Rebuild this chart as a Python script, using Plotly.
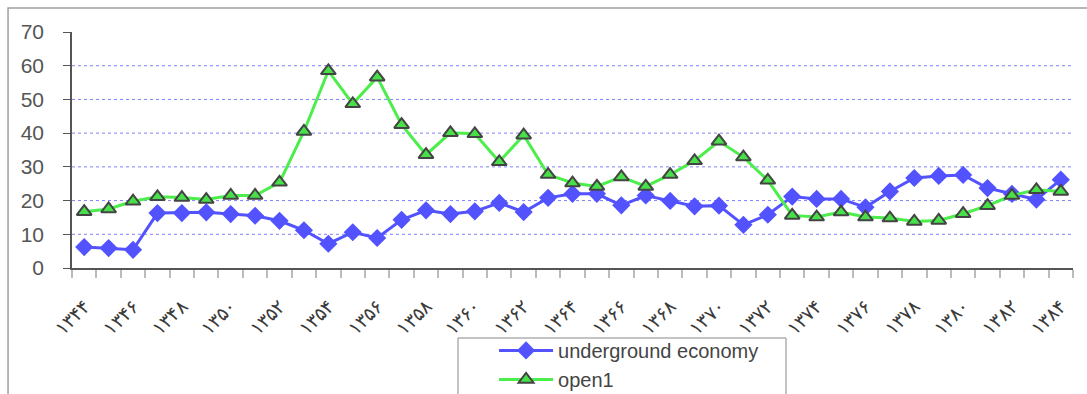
import plotly.graph_objects as go

# Persian calendar years, 1344 .. 1384
years = list(range(1344, 1385))

underground_economy = [
    6.2, 5.9, 5.4, 16.3, 16.3, 16.5, 16.0, 15.5, 14.0, 11.2,
    7.2, 10.6, 8.9, 14.3, 17.1, 16.0, 16.8, 19.3, 16.6, 20.8,
    22.0, 22.0, 18.6, 21.5, 19.9, 18.3, 18.5, 12.8, 15.8, 21.2,
    20.5, 20.5, 18.0, 22.7, 26.7, 27.3, 27.6, 23.7, 22.0, 20.3,
    26.2,
]

open1 = [
    16.7, 17.5, 19.8, 21.1, 20.9, 20.3, 21.5, 21.5, 25.4, 40.5,
    58.5, 48.7, 56.6, 42.5, 33.6, 40.1, 39.8, 31.5, 39.4, 27.7,
    25.2, 24.2, 27.0, 24.2, 27.7, 31.8, 37.6, 32.9, 26.0, 15.6,
    15.1, 16.6, 15.1, 14.8, 13.8, 14.1, 16.1, 18.5, 21.5, 23.2,
    22.7,
]

y_ticks = [0, 10, 20, 30, 40, 50, 60, 70]
grid_values = [10, 20, 30, 40, 50, 60]

PERSIAN_DIGITS = "۰۱۲۳۴۵۶۷۸۹"


def to_persian(n):
    return "".join(PERSIAN_DIGITS[int(c)] for c in str(n))


label_years = years[::2]
label_text = [to_persian(y) for y in label_years]

BLUE = "#5252ff"
GREEN = "#4cee4c"

fig = go.Figure()
fig.add_trace(go.Scatter(
    x=years, y=underground_economy, name="underground economy",
    mode="lines+markers",
    line=dict(color=BLUE, width=3),
    marker=dict(symbol="diamond", size=14, color=BLUE,
                line=dict(color=BLUE, width=0)),
))
fig.add_trace(go.Scatter(
    x=years, y=open1, name="open1",
    mode="lines+markers",
    line=dict(color=GREEN, width=3),
    marker=dict(symbol="triangle-up", size=13, color="#48e048",
                line=dict(color="#444444", width=2)),
))

# dotted horizontal grid
shapes = [
    dict(type="line", xref="paper", yref="y", x0=0, x1=1, y0=g, y1=g,
         line=dict(color="#8080ff", width=1, dash="dot"), layer="below")
    for g in grid_values
]
# outer chart frame
shapes.append(dict(type="rect", xref="paper", yref="paper",
                   x0=-0.0639, x1=1.02, y0=-0.7, y1=1.1017,
                   line=dict(color="#a0a0a0", width=1.5), layer="below"))
# legend frame
shapes.append(dict(type="rect", xref="paper", yref="paper",
                   x0=0.3856, x1=0.7133, y0=-0.7, y1=-0.2966,
                   line=dict(color="#888888", width=1), layer="below"))

fig.update_layout(
    width=1087, height=394,
    margin=dict(l=72, r=14, t=32, b=126, autoexpand=False),
    paper_bgcolor="white", plot_bgcolor="white",
    font=dict(family="Liberation Sans, Arial, sans-serif", color="#555555"),
    shapes=shapes,
    showlegend=True,
    legend=dict(
        xref="container", yref="container",
        x=0.4545, y=0.16, xanchor="left", yanchor="top",
        font=dict(size=20, color="#444444"),
        bgcolor="rgba(0,0,0,0)", borderwidth=0,
        itemwidth=54,
    ),
    xaxis=dict(
        automargin=False,
        range=[years[0] - 0.5, years[-1] + 0.5],
        tickmode="array", tickvals=label_years, ticktext=label_text,
        tickangle=-45, ticks="", ticklen=0,
        tickfont=dict(family="DejaVu Sans", size=19, color="#3a3a3a",
                      weight=300),
        ticklabelstandoff=18,
        showline=True, linecolor="#555555", linewidth=1.5,
        showgrid=False, zeroline=False,
        minor=dict(tickmode="linear", tick0=years[0] - 0.5, dtick=1,
                   ticks="outside", ticklen=8, tickcolor="#bbbbbb",
                   tickwidth=1.5, showgrid=False),
    ),
    yaxis=dict(
        automargin=False,
        range=[0, 70], tickmode="array", tickvals=y_ticks,
        ticks="outside", ticklen=7, tickcolor="#555555", tickwidth=1,
        tickfont=dict(size=21, color="#555555"),
        ticklabelstandoff=15,
        showline=True, linecolor="#555555", linewidth=1.5,
        showgrid=False, zeroline=False,
    ),
)

fig.write_html("out.html")
